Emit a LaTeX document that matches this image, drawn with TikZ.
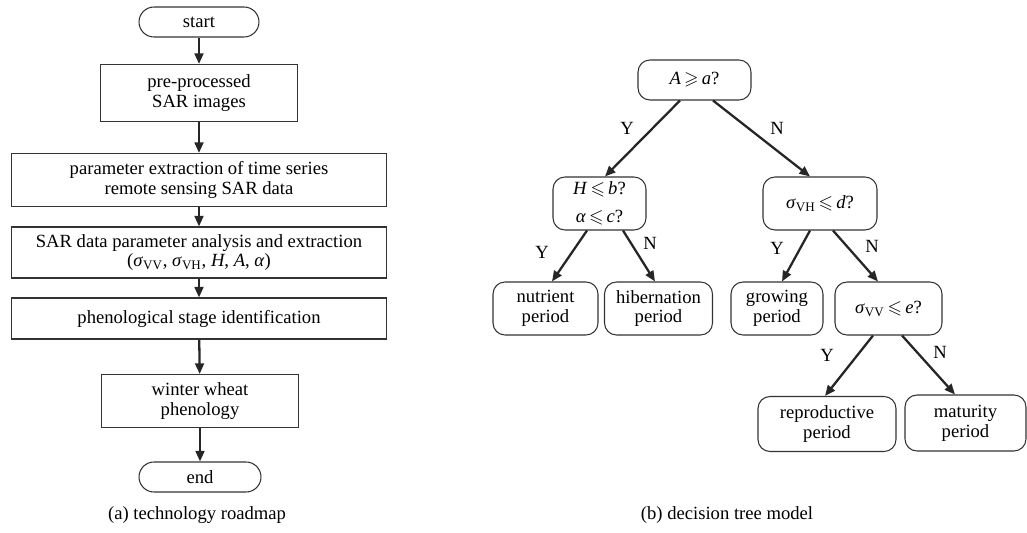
\documentclass[tikz,border=0pt]{standalone}
\usepackage{amssymb}
\usepackage{fontspec}
\setmainfont{Liberation Serif}
\usetikzlibrary{arrows.meta,calc}
\newcommand{\sigVV}{\textit{σ}\textsubscript{VV}}
\newcommand{\sigVH}{\textit{σ}\textsubscript{VH}}
\newcommand{\vgeq}{\,$\geqslant$\,}
\newcommand{\vleq}{\,$\leqslant$\,}

\begin{document}
\begin{tikzpicture}[x=0.02cm, y=-0.02cm, font=\fontsize{10.6}{11.2}\selectfont,
    flow box/.style={draw=black!80, line width=0.6pt, align=center, inner sep=1pt},
    pill/.style={flow box, rounded corners=0.3cm, minimum height=0.6cm},
    tree box/.style={flow box, rounded corners=0.24cm},
    arr/.style={-{Triangle[length=6pt,width=5pt]}, line width=1.3pt, draw=black!85}]

    \useasboundingbox (0,0) rectangle (1027,533);

    % Technology roadmap
    \node[pill, minimum width=2.4cm] (start) at (199,22) {start};
    \node[flow box, minimum width=3.94cm, minimum height=1.14cm] (pre) at (199,93) {pre-processed\\SAR images};
    \node[flow box, minimum width=7.52cm, minimum height=1.06cm] (param) at (199,180) {parameter extraction of time series\\remote sensing SAR data};
    \node[flow box, minimum width=7.52cm, minimum height=1.02cm] (analysis) at (199,252.5) {SAR data parameter analysis and extraction\\(\sigVV, \sigVH, \textit{H}, \textit{A}, \textit{α})};
    \node[flow box, minimum width=7.52cm, minimum height=0.82cm] (stage) at (199,318.5) {phenological stage identification};
    \node[flow box, minimum width=3.94cm, minimum height=1.06cm] (wheat) at (200,401) {winter wheat\\phenology};
    \node[pill, minimum width=2.44cm] (end) at (200,477) {end};
    \node (capa) at (197,515) {(a) technology roadmap};

    \draw[arr] (start) -- (pre);
    \draw[arr] (pre) -- (param);
    \draw[arr] (param) -- (analysis);
    \draw[arr] (analysis) -- (stage);
    \draw[arr] (stage) -- (wheat);
    \draw[arr] (wheat) -- (end);

    % Decision tree model
    \node[tree box, minimum width=2.26cm, minimum height=0.8cm] (root) at (694.5,80) {\textit{A}\vgeq\textit{a}?};
    \node[tree box, minimum width=1.86cm, minimum height=1.06cm] (HB) at (599.5,203.5) {\textit{H}\vleq\textit{b}?\\[5pt]\textit{α}\vleq\textit{c}?};
    \node[tree box, minimum width=2.28cm, minimum height=1.06cm] (VH) at (820,203.5) {\sigVH\vleq\textit{d}?};
    \node[tree box, minimum width=2.1cm, minimum height=1.06cm] (nutrient) at (545.5,308.5) {nutrient\\period};
    \node[tree box, minimum width=2.16cm, minimum height=1.06cm] (hiber) at (658.5,308.5) {hibernation\\period};
    \node[tree box, minimum width=1.84cm, minimum height=1.06cm] (growing) at (777,308.5) {growing\\period};
    \node[tree box, minimum width=2.14cm, minimum height=1.06cm] (VV) at (888.5,308.5) {\sigVV\vleq\textit{e}?};
    \node[tree box, minimum width=2.76cm, minimum height=1.1cm] (repro) at (827,424) {reproductive\\period};
    \node[tree box, minimum width=2.42cm, minimum height=1.12cm] (mature) at (965.5,423) {maturity\\period};
    \node (capb) at (727,515) {(b) decision tree model};

    \draw[arr] ($(root.south)+(-14.5,0)$) -- ($(HB.north)+(5.5,0)$);
    \draw[arr] ($(root.south)+(18.5,0)$) -- ($(VH.north)+(-10,0)$);
    \draw[arr] ($(HB.south)+(-12.5,0)$) -- ($(nutrient.north)+(6.5,0)$);
    \draw[arr] ($(HB.south)+(23.5,0)$) -- ($(hiber.north)+(-3.5,0)$);
    \draw[arr] ($(VH.south)+(-10,0)$) -- ($(growing.north)+(5,0)$);
    \draw[arr] ($(VH.south)+(13,0)$) -- ($(VV.north)+(-10.5,0)$);
    \draw[arr] ($(VV.south)+(-15.5,0)$) -- ($(repro.north)+(-2,0)$);
    \draw[arr] ($(VV.south)+(13.5,0)$) -- ($(mature.north)+(-10.5,0)$);

    \node (y1) at (627,128) {Y};
    \node (n1) at (777,128) {N};
    \node (y2) at (542,252) {Y};
    \node (n2) at (650,243) {N};
    \node (y3) at (777,248) {Y};
    \node (n3) at (872,246) {N};
    \node (y4) at (827,355) {Y};
    \node (n4) at (940,352) {N};

\end{tikzpicture}
\end{document}
